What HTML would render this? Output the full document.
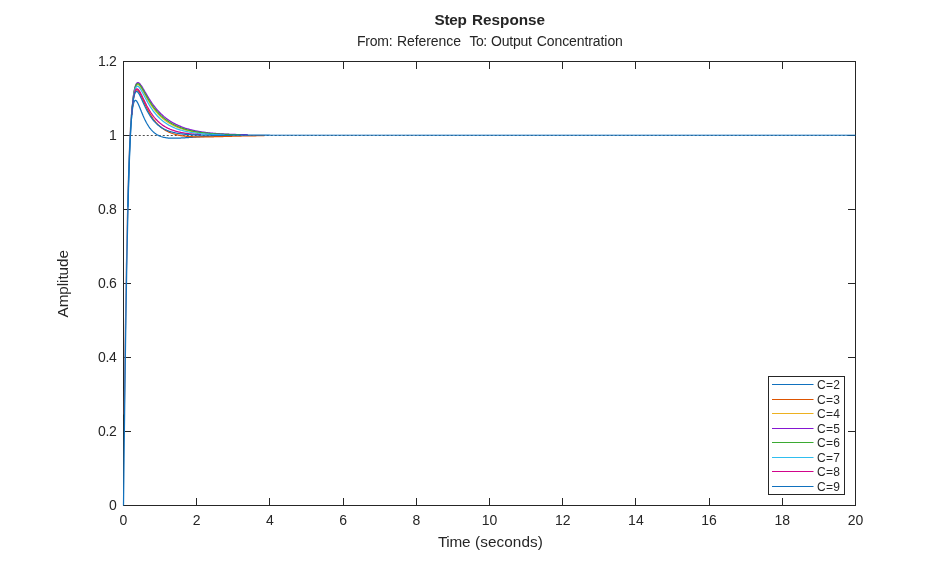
<!DOCTYPE html>
<html><head><meta charset="utf-8"><title>Step Response</title>
<style>
html,body{margin:0;padding:0;background:#fff}
body{width:946px;height:569px;overflow:hidden}
svg{display:block}
text{font-family:"Liberation Sans",Arial,Helvetica,sans-serif;fill:#262626}
.tk{font-size:14px}
.lb{font-size:15.3px}
.lg{font-size:12px}
</style></head><body>
<svg width="946" height="569" viewBox="0 0 946 569">
<rect width="946" height="569" fill="#fff"/>
<g stroke="#262626" stroke-width="1" fill="none" shape-rendering="crispEdges">
<rect x="123.5" y="61.5" width="732.0" height="444.0"/>
<path d="M196.5,505.5 V498.2 M196.5,61.5 V68.8"/>
<path d="M269.5,505.5 V498.2 M269.5,61.5 V68.8"/>
<path d="M343.5,505.5 V498.2 M343.5,61.5 V68.8"/>
<path d="M416.5,505.5 V498.2 M416.5,61.5 V68.8"/>
<path d="M489.5,505.5 V498.2 M489.5,61.5 V68.8"/>
<path d="M562.5,505.5 V498.2 M562.5,61.5 V68.8"/>
<path d="M635.5,505.5 V498.2 M635.5,61.5 V68.8"/>
<path d="M709.5,505.5 V498.2 M709.5,61.5 V68.8"/>
<path d="M782.5,505.5 V498.2 M782.5,61.5 V68.8"/>
<path d="M123.5,431.5 H130.8 M855.5,431.5 H848.2"/>
<path d="M123.5,357.5 H130.8 M855.5,357.5 H848.2"/>
<path d="M123.5,283.5 H130.8 M855.5,283.5 H848.2"/>
<path d="M123.5,209.5 H130.8 M855.5,209.5 H848.2"/>
<path d="M123.5,135.5 H130.8 M855.5,135.5 H848.2"/>
</g>
<path d="M123.5,135.50 H855.5" stroke="#262626" stroke-width="0.9" stroke-opacity="0.9" stroke-dasharray="2 2" stroke-dashoffset="0.75" fill="none"/>
<g fill="none" stroke-width="1.25" stroke-linejoin="round">
<g stroke-opacity="0.22">
<path d="M124.25,413.93 L124.43,399.56 L124.61,385.53 L124.80,371.85 L124.98,358.54 L125.16,345.62 L125.35,333.08 L125.53,320.94 L125.71,309.20 L125.90,297.86 L126.08,286.92 L126.26,276.39 L126.44,266.25 L126.63,256.51 L126.81,247.16 L126.99,238.19 L127.18,229.59 L127.36,221.37 L127.54,213.50 L127.72,205.99 L127.91,198.82 L128.09,191.98 L128.27,185.47 L128.46,179.27 L128.64,173.37 L128.82,167.77 L129.01,162.46 L129.19,157.42 L129.37,152.64 L129.56,148.12 L129.74,143.84 L129.92,139.81 L130.10,136.00 L130.29,132.40 L130.47,129.02 L130.65,125.84 L130.84,122.85 L131.02,120.04 L131.20,117.41 L131.39,114.95" stroke="#DD5400"/>
<path d="M124.25,414.74 L124.43,400.50 L124.61,386.58 L124.80,373.02 L124.98,359.81 L125.16,346.98 L125.35,334.52 L125.53,322.46 L125.71,310.78 L125.90,299.50 L126.08,288.61 L126.26,278.11 L126.44,267.99 L126.63,258.27 L126.81,248.92 L126.99,239.94 L127.18,231.33 L127.36,223.08 L127.54,215.18 L127.72,207.63 L127.91,200.41 L128.09,193.51 L128.27,186.93 L128.46,180.65 L128.64,174.68 L128.82,168.99 L129.01,163.58 L129.19,158.43 L129.37,153.55 L129.56,148.92 L129.74,144.52 L129.92,140.36 L130.10,136.42 L130.29,132.70 L130.47,129.18 L130.65,125.86 L130.84,122.73 L131.02,119.77 L131.20,116.99 L131.39,114.38" stroke="#EDB120"/>
<path d="M124.25,414.87 L124.43,400.64 L124.61,386.75 L124.80,373.20 L124.98,360.01 L125.16,347.19 L125.35,334.75 L125.53,322.69 L125.71,311.02 L125.90,299.74 L126.08,288.85 L126.26,278.35 L126.44,268.23 L126.63,258.50 L126.81,249.14 L126.99,240.16 L127.18,231.54 L127.36,223.27 L127.54,215.36 L127.72,207.78 L127.91,200.54 L128.09,193.62 L128.27,187.02 L128.46,180.72 L128.64,174.71 L128.82,168.99 L129.01,163.55 L129.19,158.38 L129.37,153.46 L129.56,148.80 L129.74,144.37 L129.92,140.17 L130.10,136.20 L130.29,132.43 L130.47,128.87 L130.65,125.51 L130.84,122.34 L131.02,119.35 L131.20,116.53 L131.39,113.87" stroke="#8516D1"/>
<path d="M124.25,414.77 L124.43,400.54 L124.61,386.63 L124.80,373.07 L124.98,359.87 L125.16,347.04 L125.35,334.59 L125.53,322.52 L125.71,310.85 L125.90,299.56 L126.08,288.67 L126.26,278.17 L126.44,268.05 L126.63,258.32 L126.81,248.97 L126.99,239.99 L127.18,231.37 L127.36,223.11 L127.54,215.20 L127.72,207.64 L127.91,200.41 L128.09,193.50 L128.27,186.91 L128.46,180.62 L128.64,174.63 L128.82,168.93 L129.01,163.50 L129.19,158.35 L129.37,153.45 L129.56,148.80 L129.74,144.39 L129.92,140.21 L130.10,136.26 L130.29,132.52 L130.47,128.98 L130.65,125.64 L130.84,122.49 L131.02,119.52 L131.20,116.72 L131.39,114.09" stroke="#3BAA32"/>
<path d="M124.25,414.58 L124.43,400.32 L124.61,386.38 L124.80,372.79 L124.98,359.57 L125.16,346.72 L125.35,334.25 L125.53,322.17 L125.71,310.48 L125.90,299.19 L126.08,288.30 L126.26,277.79 L126.44,267.68 L126.63,257.96 L126.81,248.61 L126.99,239.64 L127.18,231.04 L127.36,222.80 L127.54,214.92 L127.72,207.38 L127.91,200.17 L128.09,193.30 L128.27,186.74 L128.46,180.49 L128.64,174.54 L128.82,168.87 L129.01,163.49 L129.19,158.38 L129.37,153.53 L129.56,148.93 L129.74,144.57 L129.92,140.44 L130.10,136.54 L130.29,132.85 L130.47,129.37 L130.65,126.09 L130.84,122.99 L131.02,120.08 L131.20,117.34 L131.39,114.77" stroke="#2FBEEF"/>
<path d="M124.25,414.01 L124.43,399.66 L124.61,385.63 L124.80,371.96 L124.98,358.66 L125.16,345.74 L125.35,333.20 L125.53,321.06 L125.71,309.32 L125.90,297.98 L126.08,287.05 L126.26,276.51 L126.44,266.37 L126.63,256.62 L126.81,247.26 L126.99,238.29 L127.18,229.69 L127.36,221.45 L127.54,213.58 L127.72,206.06 L127.91,198.88 L128.09,192.03 L128.27,185.51 L128.46,179.29 L128.64,173.39 L128.82,167.77 L129.01,162.44 L129.19,157.39 L129.37,152.60 L129.56,148.06 L129.74,143.77 L129.92,139.72 L130.10,135.89 L130.29,132.28 L130.47,128.88 L130.65,125.67 L130.84,122.66 L131.02,119.84 L131.20,117.19 L131.39,114.70" stroke="#D1048B"/>
</g>
<path d="M127.89,206.88 L128.07,199.43 L128.26,192.36 L128.44,185.67 L128.62,179.34 L128.81,173.37 L128.99,167.73 L129.17,162.42 L129.36,157.42 L129.54,152.73 L129.72,148.32 L129.91,144.19 L130.09,140.33 L130.27,136.72 L130.45,133.35 L130.64,130.21 L130.82,127.29 L131.00,124.58 L131.19,122.07 L131.37,119.74 L131.55,117.60 L131.74,115.62 L131.92,113.81 L132.10,112.15 L132.28,110.63 L132.47,109.25 L132.65,107.99 L132.83,106.86 L133.02,105.84 L133.20,104.93 L133.38,104.12 L133.56,103.41 L133.75,102.79 L133.93,102.25 L134.11,101.79 L134.30,101.40 L134.48,101.08 L134.66,100.83 L134.85,100.63 L135.03,100.50 L135.21,100.41 L135.40,100.38 L135.58,100.39 L135.76,100.44 L135.94,100.53 L136.13,100.66 L136.31,100.82 L136.49,101.02 L136.68,101.24 L136.86,101.48 L137.04,101.76 L137.22,102.05 L137.41,102.37 L137.59,102.70 L137.77,103.05 L137.96,103.41 L138.14,103.79 L138.32,104.18 L138.51,104.58 L138.69,104.99 L138.87,105.41 L139.06,105.84 L139.24,106.27 L139.42,106.71 L139.60,107.15 L139.79,107.60 L139.97,108.05 L140.15,108.50 L140.34,108.96 L140.52,109.41 L140.70,109.87 L140.88,110.32 L141.07,110.78 L141.25,111.23 L141.43,111.69 L141.62,112.14 L141.80,112.59 L141.98,113.03 L142.17,113.48 L142.35,113.92 L142.53,114.35 L142.72,114.79 L142.90,115.22 L143.08,115.64 L143.26,116.07 L143.45,116.48 L143.63,116.90 L143.81,117.31 L144.00,117.71 L144.18,118.11 L144.36,118.51 L144.55,118.90 L144.73,119.28 L144.91,119.66 L145.09,120.04 L145.28,120.41 L145.46,120.77 L146.19,122.18 L146.92,123.51 L147.66,124.75 L148.39,125.92 L149.12,127.01 L149.85,128.02 L150.58,128.96 L151.32,129.84 L152.05,130.64 L152.78,131.39 L153.51,132.08 L154.24,132.72 L154.98,133.30 L155.71,133.84 L156.44,134.33 L157.17,134.77 L157.90,135.18 L158.64,135.56 L159.37,135.89 L160.10,136.20 L160.83,136.48 L161.56,136.72 L162.30,136.95 L163.03,137.15 L163.76,137.32 L164.49,137.48 L165.22,137.62 L165.96,137.74 L166.69,137.84 L167.42,137.93 L168.15,138.01 L168.88,138.07 L169.62,138.12 L170.35,138.16 L171.08,138.20 L171.81,138.22 L172.54,138.23 L173.28,138.24 L174.01,138.24 L174.74,138.23 L175.47,138.22 L176.20,138.20 L176.94,138.18 L177.67,138.16 L178.40,138.13 L179.13,138.10 L179.86,138.06 L180.60,138.03 L181.33,137.99 L182.06,137.94 L182.79,137.90 L183.52,137.86 L184.26,137.81 L184.99,137.76 L185.72,137.72 L186.45,137.67 L187.18,137.62 L187.92,137.57 L188.65,137.52 L189.38,137.47 L190.11,137.42 L190.84,137.37 L191.58,137.32 L192.31,137.27 L193.04,137.22 L193.77,137.17 L194.50,137.12 L195.24,137.07 L195.97,137.02 L196.70,136.97 L197.43,136.93 L198.16,136.88 L198.90,136.84 L199.63,136.79 L200.36,136.75 L201.09,136.71 L201.82,136.66 L202.56,136.62 L203.29,136.58 L204.02,136.54 L204.75,136.50 L205.48,136.46 L206.22,136.43 L206.95,136.39 L207.68,136.35 L208.41,136.32 L209.14,136.28 L209.88,136.25 L210.61,136.22 L211.34,136.19 L212.07,136.15 L212.80,136.12 L213.54,136.09 L214.27,136.06 L215.00,136.04 L215.73,136.01 L216.46,135.98 L217.20,135.96 L217.93,135.93 L218.66,135.91 L219.39,135.88 L220.12,135.86 L220.86,135.83 L221.59,135.81 L222.32,135.79 L223.05,135.77 L223.78,135.75 L224.52,135.73 L225.25,135.71" stroke="#1171BE"/>
<path d="M131.74,114.95 L131.92,112.64 L132.10,110.50 L132.28,108.49 L132.47,106.63 L132.65,104.90 L132.83,103.30 L133.02,101.81 L133.20,100.44 L133.38,99.18 L133.56,98.03 L133.75,96.97 L133.93,96.00 L134.11,95.12 L134.30,94.33 L134.48,93.62 L134.66,92.98 L134.85,92.41 L135.03,91.90 L135.21,91.47 L135.40,91.09 L135.58,90.76 L135.76,90.49 L135.94,90.27 L136.13,90.10 L136.31,89.97 L136.49,89.88 L136.68,89.83 L136.86,89.82 L137.04,89.84 L137.22,89.90 L137.41,89.98 L137.59,90.09 L137.77,90.23 L137.96,90.40 L138.14,90.58 L138.32,90.79 L138.51,91.02 L138.69,91.26 L138.87,91.52 L139.06,91.80 L139.24,92.09 L139.42,92.40 L139.60,92.71 L139.79,93.04 L139.97,93.38 L140.15,93.73 L140.34,94.08 L140.52,94.45 L140.70,94.82 L140.88,95.19 L141.07,95.58 L141.25,95.96 L141.43,96.35 L141.62,96.75 L141.80,97.15 L141.98,97.55 L142.17,97.95 L142.35,98.36 L142.53,98.76 L142.72,99.17 L142.90,99.58 L143.08,99.99 L143.26,100.39 L143.45,100.80 L143.63,101.21 L143.81,101.62 L144.00,102.02 L144.18,102.43 L144.36,102.83 L144.55,103.23 L144.73,103.63 L144.91,104.03 L145.09,104.42 L145.28,104.82 L145.46,105.21 L146.19,106.74 L146.92,108.24 L147.66,109.68 L148.39,111.07 L149.12,112.40 L149.85,113.68 L150.58,114.91 L151.32,116.08 L152.05,117.20 L152.78,118.27 L153.51,119.29 L154.24,120.26 L154.98,121.18 L155.71,122.06 L156.44,122.90 L157.17,123.69 L157.90,124.44 L158.64,125.16 L159.37,125.84 L160.10,126.49 L160.83,127.10 L161.56,127.69 L162.30,128.24 L163.03,128.76 L163.76,129.26 L164.49,129.73 L165.22,130.18 L165.96,130.60 L166.69,131.01 L167.42,131.39 L168.15,131.75 L168.88,132.09 L169.62,132.41 L170.35,132.71 L171.08,133.00 L171.81,133.27 L172.54,133.53 L173.28,133.77 L174.01,134.00 L174.74,134.21 L175.47,134.42 L176.20,134.61 L176.94,134.79 L177.67,134.96 L178.40,135.12 L179.13,135.27 L179.86,135.41 L180.60,135.54 L181.33,135.66 L182.06,135.77 L182.79,135.88 L183.52,135.98 L184.26,136.07 L184.99,136.16 L185.72,136.24 L186.45,136.31 L187.18,136.38 L187.92,136.45 L188.65,136.50 L189.38,136.56 L190.11,136.61 L190.84,136.65 L191.58,136.69 L192.31,136.73 L193.04,136.76 L193.77,136.79 L194.50,136.81 L195.24,136.83 L195.97,136.85 L196.70,136.87 L197.43,136.88 L198.16,136.90 L198.90,136.91 L199.63,136.91 L200.36,136.92 L201.09,136.92 L201.82,136.92 L202.56,136.92 L203.29,136.92 L204.02,136.91 L204.75,136.91 L205.48,136.90 L206.22,136.89 L206.95,136.89 L207.68,136.87 L208.41,136.86 L209.14,136.85 L209.88,136.84 L210.61,136.82 L211.34,136.81 L212.07,136.79 L212.80,136.78 L213.54,136.76 L214.27,136.74 L215.00,136.73 L215.73,136.71 L216.46,136.69 L217.20,136.67 L217.93,136.65 L218.66,136.63 L219.39,136.61 L220.12,136.59 L220.86,136.57 L221.59,136.55 L222.32,136.53 L223.05,136.51 L223.78,136.49 L224.52,136.47 L225.25,136.45 L225.98,136.43 L226.71,136.41 L227.44,136.39 L228.18,136.37 L228.91,136.35 L229.64,136.33 L230.37,136.31 L231.10,136.29 L231.84,136.27 L232.57,136.25 L233.30,136.23 L235.13,136.18 L236.96,136.13 L238.79,136.09 L240.62,136.04 L242.45,136.00 L244.28,135.96 L246.11,135.92 L247.94,135.89 L249.77,135.85 L251.60,135.82 L253.43,135.79 L255.26,135.76 L257.09,135.73 L258.92,135.71 L260.75,135.68 L262.58,135.66 L264.41,135.64" stroke="#DD5400"/>
<path d="M131.74,114.38 L131.92,111.93 L132.10,109.62 L132.28,107.46 L132.47,105.44 L132.65,103.55 L132.83,101.79 L133.02,100.14 L133.20,98.61 L133.38,97.19 L133.56,95.87 L133.75,94.65 L133.93,93.52 L134.11,92.48 L134.30,91.52 L134.48,90.65 L134.66,89.85 L134.85,89.12 L135.03,88.45 L135.21,87.86 L135.40,87.32 L135.58,86.84 L135.76,86.41 L135.94,86.04 L136.13,85.71 L136.31,85.43 L136.49,85.20 L136.68,85.00 L136.86,84.84 L137.04,84.72 L137.22,84.63 L137.41,84.57 L137.59,84.54 L137.77,84.54 L137.96,84.57 L138.14,84.62 L138.32,84.70 L138.51,84.79 L138.69,84.91 L138.87,85.05 L139.06,85.20 L139.24,85.37 L139.42,85.55 L139.60,85.75 L139.79,85.96 L139.97,86.19 L140.15,86.42 L140.34,86.67 L140.52,86.93 L140.70,87.19 L140.88,87.46 L141.07,87.74 L141.25,88.03 L141.43,88.33 L141.62,88.62 L141.80,88.93 L141.98,89.24 L142.17,89.55 L142.35,89.87 L142.53,90.19 L142.72,90.51 L142.90,90.84 L143.08,91.17 L143.26,91.50 L143.45,91.83 L143.63,92.16 L143.81,92.50 L144.00,92.83 L144.18,93.17 L144.36,93.50 L144.55,93.84 L144.73,94.18 L144.91,94.51 L145.09,94.85 L145.28,95.18 L145.46,95.52 L146.19,96.84 L146.92,98.15 L147.66,99.43 L148.39,100.68 L149.12,101.90 L149.85,103.08 L150.58,104.23 L151.32,105.34 L152.05,106.41 L152.78,107.45 L153.51,108.45 L154.24,109.42 L154.98,110.35 L155.71,111.26 L156.44,112.12 L157.17,112.96 L157.90,113.77 L158.64,114.55 L159.37,115.30 L160.10,116.02 L160.83,116.72 L161.56,117.39 L162.30,118.04 L163.03,118.67 L163.76,119.27 L164.49,119.85 L165.22,120.41 L165.96,120.95 L166.69,121.47 L167.42,121.97 L168.15,122.45 L168.88,122.92 L169.62,123.37 L170.35,123.80 L171.08,124.22 L171.81,124.62 L172.54,125.01 L173.28,125.39 L174.01,125.75 L174.74,126.10 L175.47,126.43 L176.20,126.76 L176.94,127.07 L177.67,127.37 L178.40,127.66 L179.13,127.94 L179.86,128.21 L180.60,128.47 L181.33,128.72 L182.06,128.96 L182.79,129.20 L183.52,129.42 L184.26,129.64 L184.99,129.85 L185.72,130.05 L186.45,130.24 L187.18,130.43 L187.92,130.61 L188.65,130.78 L189.38,130.95 L190.11,131.11 L190.84,131.26 L191.58,131.41 L192.31,131.56 L193.04,131.69 L193.77,131.83 L194.50,131.95 L195.24,132.08 L195.97,132.20 L196.70,132.31 L197.43,132.42 L198.16,132.53 L198.90,132.63 L199.63,132.73 L200.36,132.82 L201.09,132.91 L201.82,133.00 L202.56,133.08 L203.29,133.16 L204.02,133.24 L204.75,133.31 L205.48,133.39 L206.22,133.45 L206.95,133.52 L207.68,133.58 L208.41,133.65 L209.14,133.70 L209.88,133.76 L210.61,133.82 L211.34,133.87 L212.07,133.92 L212.80,133.97 L213.54,134.01 L214.27,134.06 L215.00,134.10 L215.73,134.14 L216.46,134.18 L217.20,134.22 L217.93,134.25 L218.66,134.29 L219.39,134.32 L220.12,134.35 L220.86,134.39 L221.59,134.41 L222.32,134.44 L223.05,134.47 L223.78,134.50 L224.52,134.52 L225.25,134.55 L225.98,134.57 L226.71,134.59 L227.44,134.61 L228.18,134.63 L228.91,134.65 L229.64,134.67 L230.37,134.69 L231.10,134.70 L231.84,134.72 L232.57,134.74 L233.30,134.75 L235.13,134.79" stroke="#EDB120"/>
<path d="M131.74,113.87 L131.92,111.37 L132.10,109.03 L132.28,106.83 L132.47,104.76 L132.65,102.83 L132.83,101.02 L133.02,99.33 L133.20,97.76 L133.38,96.29 L133.56,94.93 L133.75,93.66 L133.93,92.49 L134.11,91.41 L134.30,90.41 L134.48,89.49 L134.66,88.64 L134.85,87.87 L135.03,87.16 L135.21,86.52 L135.40,85.95 L135.58,85.42 L135.76,84.96 L135.94,84.54 L136.13,84.18 L136.31,83.86 L136.49,83.58 L136.68,83.34 L136.86,83.14 L137.04,82.98 L137.22,82.86 L137.41,82.76 L137.59,82.70 L137.77,82.66 L137.96,82.65 L138.14,82.67 L138.32,82.71 L138.51,82.77 L138.69,82.86 L138.87,82.96 L139.06,83.08 L139.24,83.22 L139.42,83.37 L139.60,83.54 L139.79,83.72 L139.97,83.92 L140.15,84.12 L140.34,84.34 L140.52,84.57 L140.70,84.80 L140.88,85.05 L141.07,85.30 L141.25,85.57 L141.43,85.83 L141.62,86.11 L141.80,86.39 L141.98,86.67 L142.17,86.96 L142.35,87.26 L142.53,87.56 L142.72,87.86 L142.90,88.16 L143.08,88.47 L143.26,88.78 L143.45,89.09 L143.63,89.41 L143.81,89.72 L144.00,90.04 L144.18,90.36 L144.36,90.68 L144.55,91.00 L144.73,91.32 L144.91,91.64 L145.09,91.96 L145.28,92.28 L145.46,92.60 L146.19,93.87 L146.92,95.13 L147.66,96.37 L148.39,97.58 L149.12,98.77 L149.85,99.93 L150.58,101.06 L151.32,102.16 L152.05,103.23 L152.78,104.26 L153.51,105.26 L154.24,106.23 L154.98,107.17 L155.71,108.08 L156.44,108.97 L157.17,109.82 L157.90,110.64 L158.64,111.44 L159.37,112.22 L160.10,112.97 L160.83,113.69 L161.56,114.39 L162.30,115.07 L163.03,115.72 L163.76,116.36 L164.49,116.97 L165.22,117.57 L165.96,118.14 L166.69,118.70 L167.42,119.24 L168.15,119.76 L168.88,120.26 L169.62,120.75 L170.35,121.22 L171.08,121.68 L171.81,122.13 L172.54,122.55 L173.28,122.97 L174.01,123.37 L174.74,123.76 L175.47,124.14 L176.20,124.50 L176.94,124.85 L177.67,125.19 L178.40,125.52 L179.13,125.84 L179.86,126.15 L180.60,126.45 L181.33,126.74 L182.06,127.02 L182.79,127.29 L183.52,127.56 L184.26,127.81 L184.99,128.06 L185.72,128.29 L186.45,128.52 L187.18,128.75 L187.92,128.96 L188.65,129.17 L189.38,129.37 L190.11,129.56 L190.84,129.75 L191.58,129.93 L192.31,130.11 L193.04,130.28 L193.77,130.44 L194.50,130.60 L195.24,130.76 L195.97,130.91 L196.70,131.05 L197.43,131.19 L198.16,131.32 L198.90,131.45 L199.63,131.58 L200.36,131.70 L201.09,131.81 L201.82,131.93 L202.56,132.04 L203.29,132.14 L204.02,132.24 L204.75,132.34 L205.48,132.44 L206.22,132.53 L206.95,132.62 L207.68,132.70 L208.41,132.79 L209.14,132.87 L209.88,132.94 L210.61,133.02 L211.34,133.09 L212.07,133.16 L212.80,133.23 L213.54,133.29 L214.27,133.35 L215.00,133.41 L215.73,133.47 L216.46,133.53 L217.20,133.58 L217.93,133.64 L218.66,133.69 L219.39,133.73 L220.12,133.78 L220.86,133.83 L221.59,133.87 L222.32,133.91 L223.05,133.95 L223.78,133.99 L224.52,134.03 L225.25,134.07 L225.98,134.10 L226.71,134.14 L227.44,134.17 L228.18,134.20 L228.91,134.23 L229.64,134.26 L230.37,134.29 L231.10,134.32 L231.84,134.35 L232.57,134.37 L233.30,134.40 L235.13,134.46 L236.96,134.51 L238.79,134.56 L240.62,134.60 L242.45,134.65 L244.28,134.69 L246.11,134.72 L247.94,134.76" stroke="#8516D1"/>
<path d="M131.74,114.09 L131.92,111.62 L132.10,109.30 L132.28,107.12 L132.47,105.08 L132.65,103.17 L132.83,101.39 L133.02,99.73 L133.20,98.18 L133.38,96.73 L133.56,95.40 L133.75,94.16 L133.93,93.01 L134.11,91.95 L134.30,90.98 L134.48,90.08 L134.66,89.26 L134.85,88.51 L135.03,87.83 L135.21,87.22 L135.40,86.66 L135.58,86.16 L135.76,85.72 L135.94,85.33 L136.13,84.99 L136.31,84.69 L136.49,84.44 L136.68,84.22 L136.86,84.05 L137.04,83.91 L137.22,83.80 L137.41,83.73 L137.59,83.69 L137.77,83.67 L137.96,83.69 L138.14,83.72 L138.32,83.78 L138.51,83.87 L138.69,83.97 L138.87,84.09 L139.06,84.23 L139.24,84.39 L139.42,84.56 L139.60,84.74 L139.79,84.94 L139.97,85.16 L140.15,85.38 L140.34,85.61 L140.52,85.86 L140.70,86.11 L140.88,86.37 L141.07,86.64 L141.25,86.92 L141.43,87.20 L141.62,87.49 L141.80,87.79 L141.98,88.09 L142.17,88.39 L142.35,88.70 L142.53,89.01 L142.72,89.33 L142.90,89.64 L143.08,89.96 L143.26,90.29 L143.45,90.61 L143.63,90.94 L143.81,91.26 L144.00,91.59 L144.18,91.92 L144.36,92.25 L144.55,92.58 L144.73,92.91 L144.91,93.24 L145.09,93.57 L145.28,93.90 L145.46,94.22 L146.19,95.53 L146.92,96.82 L147.66,98.09 L148.39,99.32 L149.12,100.53 L149.85,101.71 L150.58,102.85 L151.32,103.96 L152.05,105.03 L152.78,106.07 L153.51,107.07 L154.24,108.05 L154.98,108.99 L155.71,109.89 L156.44,110.77 L157.17,111.62 L157.90,112.43 L158.64,113.22 L159.37,113.99 L160.10,114.72 L160.83,115.43 L161.56,116.12 L162.30,116.78 L163.03,117.42 L163.76,118.04 L164.49,118.63 L165.22,119.21 L165.96,119.77 L166.69,120.30 L167.42,120.82 L168.15,121.32 L168.88,121.81 L169.62,122.28 L170.35,122.73 L171.08,123.16 L171.81,123.58 L172.54,123.99 L173.28,124.38 L174.01,124.76 L174.74,125.13 L175.47,125.48 L176.20,125.82 L176.94,126.15 L177.67,126.47 L178.40,126.78 L179.13,127.08 L179.86,127.37 L180.60,127.64 L181.33,127.91 L182.06,128.17 L182.79,128.42 L183.52,128.66 L184.26,128.89 L184.99,129.12 L185.72,129.34 L186.45,129.54 L187.18,129.75 L187.92,129.94 L188.65,130.13 L189.38,130.31 L190.11,130.49 L190.84,130.65 L191.58,130.82 L192.31,130.97 L193.04,131.13 L193.77,131.27 L194.50,131.41 L195.24,131.55 L195.97,131.68 L196.70,131.81 L197.43,131.93 L198.16,132.05 L198.90,132.16 L199.63,132.27 L200.36,132.37 L201.09,132.48 L201.82,132.57 L202.56,132.67 L203.29,132.76 L204.02,132.85 L204.75,132.93 L205.48,133.01 L206.22,133.09 L206.95,133.17 L207.68,133.24 L208.41,133.31 L209.14,133.38 L209.88,133.44 L210.61,133.50 L211.34,133.57 L212.07,133.62 L212.80,133.68 L213.54,133.73 L214.27,133.78 L215.00,133.83 L215.73,133.88 L216.46,133.93 L217.20,133.97 L217.93,134.02 L218.66,134.06 L219.39,134.10 L220.12,134.13 L220.86,134.17 L221.59,134.21 L222.32,134.24 L223.05,134.27 L223.78,134.30 L224.52,134.33 L225.25,134.36 L225.98,134.39 L226.71,134.42 L227.44,134.44 L228.18,134.47 L228.91,134.49 L229.64,134.52 L230.37,134.54 L231.10,134.56 L231.84,134.58 L232.57,134.60 L233.30,134.62 L235.13,134.66 L236.96,134.70 L238.79,134.74 L240.62,134.77" stroke="#3BAA32"/>
<path d="M131.74,114.77 L131.92,112.36 L132.10,110.09 L132.28,107.98 L132.47,106.00 L132.65,104.15 L132.83,102.43 L133.02,100.83 L133.20,99.34 L133.38,97.96 L133.56,96.69 L133.75,95.51 L133.93,94.42 L134.11,93.42 L134.30,92.51 L134.48,91.68 L134.66,90.92 L134.85,90.23 L135.03,89.61 L135.21,89.05 L135.40,88.56 L135.58,88.12 L135.76,87.73 L135.94,87.40 L136.13,87.11 L136.31,86.87 L136.49,86.67 L136.68,86.51 L136.86,86.39 L137.04,86.30 L137.22,86.25 L137.41,86.23 L137.59,86.24 L137.77,86.27 L137.96,86.33 L138.14,86.42 L138.32,86.53 L138.51,86.65 L138.69,86.80 L138.87,86.97 L139.06,87.15 L139.24,87.35 L139.42,87.57 L139.60,87.79 L139.79,88.04 L139.97,88.29 L140.15,88.55 L140.34,88.82 L140.52,89.10 L140.70,89.39 L140.88,89.69 L141.07,90.00 L141.25,90.31 L141.43,90.63 L141.62,90.95 L141.80,91.27 L141.98,91.60 L142.17,91.94 L142.35,92.28 L142.53,92.62 L142.72,92.96 L142.90,93.30 L143.08,93.65 L143.26,94.00 L143.45,94.35 L143.63,94.70 L143.81,95.05 L144.00,95.40 L144.18,95.75 L144.36,96.10 L144.55,96.45 L144.73,96.80 L144.91,97.15 L145.09,97.50 L145.28,97.84 L145.46,98.19 L146.19,99.56 L146.92,100.90 L147.66,102.21 L148.39,103.49 L149.12,104.72 L149.85,105.92 L150.58,107.08 L151.32,108.19 L152.05,109.26 L152.78,110.30 L153.51,111.29 L154.24,112.25 L154.98,113.17 L155.71,114.05 L156.44,114.90 L157.17,115.72 L157.90,116.50 L158.64,117.25 L159.37,117.97 L160.10,118.67 L160.83,119.33 L161.56,119.97 L162.30,120.58 L163.03,121.17 L163.76,121.74 L164.49,122.28 L165.22,122.81 L165.96,123.31 L166.69,123.79 L167.42,124.25 L168.15,124.69 L168.88,125.12 L169.62,125.53 L170.35,125.92 L171.08,126.30 L171.81,126.66 L172.54,127.01 L173.28,127.35 L174.01,127.67 L174.74,127.98 L175.47,128.27 L176.20,128.56 L176.94,128.83 L177.67,129.10 L178.40,129.35 L179.13,129.59 L179.86,129.82 L180.60,130.05 L181.33,130.26 L182.06,130.47 L182.79,130.67 L183.52,130.86 L184.26,131.04 L184.99,131.22 L185.72,131.38 L186.45,131.55 L187.18,131.70 L187.92,131.85 L188.65,131.99 L189.38,132.13 L190.11,132.26 L190.84,132.38 L191.58,132.50 L192.31,132.62 L193.04,132.73 L193.77,132.84 L194.50,132.94 L195.24,133.04 L195.97,133.13 L196.70,133.22 L197.43,133.30 L198.16,133.39 L198.90,133.47 L199.63,133.54 L200.36,133.61 L201.09,133.68 L201.82,133.75 L202.56,133.81 L203.29,133.87 L204.02,133.93 L204.75,133.99 L205.48,134.04 L206.22,134.09 L206.95,134.14 L207.68,134.19 L208.41,134.23 L209.14,134.27 L209.88,134.31 L210.61,134.35 L211.34,134.39 L212.07,134.42 L212.80,134.46 L213.54,134.49 L214.27,134.52 L215.00,134.55 L215.73,134.58 L216.46,134.60 L217.20,134.63 L217.93,134.65 L218.66,134.68 L219.39,134.70 L220.12,134.72 L220.86,134.74 L221.59,134.76 L222.32,134.78 L223.05,134.79 L223.78,134.81 L224.52,134.83" stroke="#2FBEEF"/>
<path d="M131.74,114.70 L131.92,112.38 L132.10,110.21 L132.28,108.19 L132.47,106.30 L132.65,104.55 L132.83,102.93 L133.02,101.42 L133.20,100.03 L133.38,98.74 L133.56,97.56 L133.75,96.48 L133.93,95.49 L134.11,94.59 L134.30,93.77 L134.48,93.03 L134.66,92.37 L134.85,91.77 L135.03,91.24 L135.21,90.78 L135.40,90.38 L135.58,90.03 L135.76,89.73 L135.94,89.48 L136.13,89.28 L136.31,89.13 L136.49,89.02 L136.68,88.94 L136.86,88.90 L137.04,88.90 L137.22,88.93 L137.41,88.98 L137.59,89.07 L137.77,89.18 L137.96,89.32 L138.14,89.48 L138.32,89.66 L138.51,89.86 L138.69,90.08 L138.87,90.31 L139.06,90.56 L139.24,90.83 L139.42,91.10 L139.60,91.39 L139.79,91.70 L139.97,92.01 L140.15,92.33 L140.34,92.66 L140.52,93.00 L140.70,93.34 L140.88,93.69 L141.07,94.05 L141.25,94.41 L141.43,94.77 L141.62,95.14 L141.80,95.52 L141.98,95.89 L142.17,96.27 L142.35,96.65 L142.53,97.03 L142.72,97.41 L142.90,97.79 L143.08,98.18 L143.26,98.56 L143.45,98.94 L143.63,99.33 L143.81,99.71 L144.00,100.09 L144.18,100.47 L144.36,100.85 L144.55,101.23 L144.73,101.61 L144.91,101.98 L145.09,102.35 L145.28,102.72 L145.46,103.09 L146.19,104.54 L146.92,105.95 L147.66,107.30 L148.39,108.61 L149.12,109.87 L149.85,111.08 L150.58,112.24 L151.32,113.34 L152.05,114.40 L152.78,115.41 L153.51,116.37 L154.24,117.28 L154.98,118.16 L155.71,118.99 L156.44,119.78 L157.17,120.54 L157.90,121.26 L158.64,121.94 L159.37,122.59 L160.10,123.21 L160.83,123.80 L161.56,124.36 L162.30,124.89 L163.03,125.40 L163.76,125.89 L164.49,126.35 L165.22,126.79 L165.96,127.20 L166.69,127.60 L167.42,127.98 L168.15,128.34 L168.88,128.68 L169.62,129.01 L170.35,129.32 L171.08,129.61 L171.81,129.90 L172.54,130.16 L173.28,130.42 L174.01,130.66 L174.74,130.89 L175.47,131.11 L176.20,131.32 L176.94,131.52 L177.67,131.71 L178.40,131.90 L179.13,132.07 L179.86,132.23 L180.60,132.39 L181.33,132.54 L182.06,132.68 L182.79,132.81 L183.52,132.94 L184.26,133.06 L184.99,133.18 L185.72,133.29 L186.45,133.39 L187.18,133.49 L187.92,133.59 L188.65,133.68 L189.38,133.76 L190.11,133.84 L190.84,133.92 L191.58,133.99 L192.31,134.06 L193.04,134.13 L193.77,134.19 L194.50,134.25 L195.24,134.31 L195.97,134.36 L196.70,134.41 L197.43,134.46 L198.16,134.50 L198.90,134.55 L199.63,134.59 L200.36,134.62 L201.09,134.66" stroke="#D1048B"/>
<path d="M123.50,505.51 L123.68,489.75 L123.87,474.10 L124.05,458.62 L124.23,443.34 L124.42,428.31 L124.60,413.57 L124.78,399.13 L124.96,385.03 L125.15,371.28 L125.33,357.91 L125.51,344.92 L125.70,332.33 L125.88,320.13 L126.06,308.34 L126.25,296.96 L126.43,285.99 L126.61,275.42 L126.79,265.25 L126.98,255.49 L127.16,246.12 L127.34,237.14 L127.53,228.54 L127.71,220.32 L127.89,212.46 L128.07,204.95 L128.26,197.80 L128.44,190.98 L128.62,184.49 L128.81,178.32 L128.99,172.46 L129.17,166.89 L129.36,161.62 L129.54,156.62 L129.72,151.89 L129.91,147.42 L130.09,143.20 L130.27,139.21 L130.45,135.46 L130.64,131.93 L130.82,128.60 L131.00,125.48 L131.19,122.56 L131.37,119.82 L131.55,117.25 L131.74,114.86 L131.92,112.62 L132.10,110.54 L132.28,108.61 L132.47,106.82 L132.65,105.15 L132.83,103.62 L133.02,102.21 L133.20,100.91 L133.38,99.71 L133.56,98.63 L133.75,97.63 L133.93,96.74 L134.11,95.92 L134.30,95.20 L134.48,94.54 L134.66,93.97 L134.85,93.46 L135.03,93.02 L135.21,92.64 L135.40,92.32 L135.58,92.05 L135.76,91.84 L135.94,91.67 L136.13,91.56 L136.31,91.48 L136.49,91.44 L136.68,91.44 L136.86,91.48 L137.04,91.55 L137.22,91.64 L137.41,91.77 L137.59,91.93 L137.77,92.10 L137.96,92.31 L138.14,92.53 L138.32,92.77 L138.51,93.03 L138.69,93.31 L138.87,93.60 L139.06,93.91 L139.24,94.23 L139.42,94.56 L139.60,94.90 L139.79,95.25 L139.97,95.61 L140.15,95.98 L140.34,96.35 L140.52,96.73 L140.70,97.12 L140.88,97.51 L141.07,97.90 L141.25,98.30 L141.43,98.70 L141.62,99.11 L141.80,99.51 L141.98,99.92 L142.17,100.33 L142.35,100.74 L142.53,101.15 L142.72,101.56 L142.90,101.97 L143.08,102.37 L143.26,102.78 L143.45,103.19 L143.63,103.59 L143.81,103.99 L144.00,104.39 L144.18,104.79 L144.36,105.18 L144.55,105.58 L144.73,105.97 L144.91,106.35 L145.09,106.74 L145.28,107.12 L145.46,107.50 L146.19,108.98 L146.92,110.40 L147.66,111.76 L148.39,113.06 L149.12,114.30 L149.85,115.48 L150.58,116.59 L151.32,117.65 L152.05,118.66 L152.78,119.61 L153.51,120.50 L154.24,121.35 L154.98,122.15 L155.71,122.91 L156.44,123.62 L157.17,124.29 L157.90,124.93 L158.64,125.53 L159.37,126.09 L160.10,126.63 L160.83,127.13 L161.56,127.60 L162.30,128.05 L163.03,128.47 L163.76,128.87 L164.49,129.24 L165.22,129.60 L165.96,129.93 L166.69,130.25 L167.42,130.54 L168.15,130.82 L168.88,131.09 L169.62,131.34 L170.35,131.57 L171.08,131.79 L171.81,132.00 L172.54,132.20 L173.28,132.39 L174.01,132.56 L174.74,132.73 L175.47,132.89 L176.20,133.03 L176.94,133.17 L177.67,133.30 L178.40,133.43 L179.13,133.55 L179.86,133.66 L180.60,133.76 L181.33,133.86 L182.06,133.95 L182.79,134.04 L183.52,134.12 L184.26,134.20 L184.99,134.27 L185.72,134.34 L186.45,134.40 L187.18,134.46 L187.92,134.52 L188.65,134.57 L189.38,134.63 L190.11,134.67 L190.84,134.72 L191.58,134.76 L192.31,134.80 L193.04,134.83 L193.77,134.87 L194.50,134.90 L195.24,134.93 L195.97,134.96 L196.70,134.98 L197.43,135.01 L198.16,135.03 L198.90,135.05 L199.63,135.07 L200.36,135.09 L201.09,135.11 L201.82,135.12 L202.56,135.14 L203.29,135.15 L204.02,135.16 L204.75,135.18 L205.48,135.19 L206.22,135.20 L206.95,135.20 L207.68,135.21 L208.41,135.22 L209.14,135.23 L209.88,135.23 L210.61,135.24 L211.34,135.24 L212.07,135.25 L212.80,135.25 L213.54,135.25 L214.27,135.26 L215.00,135.26 L215.73,135.26 L216.46,135.26 L217.20,135.26 L217.93,135.26 L218.66,135.27 L219.39,135.27 L220.12,135.27 L220.86,135.27 L221.59,135.26 L222.32,135.26 L223.05,135.26 L223.78,135.26 L224.52,135.26 L225.25,135.26 L225.98,135.26 L226.71,135.26 L227.44,135.25 L228.18,135.25 L228.91,135.25 L229.64,135.25 L230.37,135.25 L231.10,135.24 L231.84,135.24 L232.57,135.24 L233.30,135.24 L235.13,135.23 L236.96,135.23 L238.79,135.22 L240.62,135.22 L242.45,135.21 L244.28,135.21 L246.11,135.20 L247.94,135.20 L249.77,135.20 L251.60,135.20 L253.43,135.20 L255.26,135.20 L257.09,135.20 L258.92,135.20 L260.75,135.20 L262.58,135.20 L264.41,135.20 L266.24,135.20 L268.07,135.20 L269.90,135.20" stroke="#1171BE"/>
<path d="M269.90,135.20 L271.73,135.20 L273.56,135.20 L275.39,135.20 L277.22,135.20 L279.05,135.20 L280.88,135.20 L282.71,135.20 L284.54,135.20 L286.37,135.20 L288.20,135.20 L290.03,135.20 L291.86,135.20 L293.69,135.20 L295.52,135.20 L297.35,135.20 L299.18,135.20 L301.01,135.20 L302.84,135.20 L304.67,135.20 L306.50,135.20 L308.33,135.20 L310.16,135.20 L311.99,135.20 L313.82,135.20 L315.65,135.20 L317.48,135.20 L319.31,135.20 L321.14,135.20 L322.97,135.20 L324.80,135.20 L326.63,135.20 L328.46,135.20 L330.29,135.20 L332.12,135.20 L333.95,135.20 L335.78,135.20 L337.61,135.20 L339.44,135.20 L341.27,135.20 L343.10,135.20 L344.93,135.20 L346.76,135.20 L348.59,135.20 L350.42,135.20 L352.25,135.20 L354.08,135.20 L355.91,135.20 L357.74,135.20 L359.57,135.20 L361.40,135.20 L363.23,135.20 L365.06,135.20 L366.89,135.20 L368.72,135.20 L370.55,135.20 L372.38,135.20 L374.21,135.20 L376.04,135.20 L377.87,135.20 L379.70,135.20 L381.53,135.20 L383.36,135.20 L385.19,135.20 L387.02,135.20 L388.85,135.20 L390.68,135.20 L392.51,135.20 L394.34,135.20 L396.17,135.20 L398.00,135.20 L399.83,135.20 L401.66,135.20 L403.49,135.20 L405.32,135.20 L407.15,135.20 L408.98,135.20 L410.81,135.20 L412.64,135.20 L414.47,135.20 L416.30,135.20 L855.50,135.20" stroke="#1171BE" stroke-width="1"/>
</g>
<text class="tk" x="123.5" y="525" text-anchor="middle">0</text>
<text class="tk" x="196.7" y="525" text-anchor="middle">2</text>
<text class="tk" x="269.9" y="525" text-anchor="middle">4</text>
<text class="tk" x="343.1" y="525" text-anchor="middle">6</text>
<text class="tk" x="416.3" y="525" text-anchor="middle">8</text>
<text class="tk" x="489.5" y="525" text-anchor="middle">10</text>
<text class="tk" x="562.7" y="525" text-anchor="middle">12</text>
<text class="tk" x="635.9" y="525" text-anchor="middle">14</text>
<text class="tk" x="709.1" y="525" text-anchor="middle">16</text>
<text class="tk" x="782.3" y="525" text-anchor="middle">18</text>
<text class="tk" x="855.5" y="525" text-anchor="middle">20</text>
<text class="tk" x="116.7" y="510.2" text-anchor="end">0</text>
<text class="tk" x="116.7" y="436.2" text-anchor="end" textLength="18.6">0.2</text>
<text class="tk" x="116.7" y="362.2" text-anchor="end" textLength="18.6">0.4</text>
<text class="tk" x="116.7" y="288.2" text-anchor="end" textLength="18.6">0.6</text>
<text class="tk" x="116.7" y="214.2" text-anchor="end" textLength="18.6">0.8</text>
<text class="tk" x="116.7" y="140.2" text-anchor="end">1</text>
<text class="tk" x="116.7" y="66.2" text-anchor="end" textLength="18.6">1.2</text>
<text class="lb" y="547.4"><tspan x="437.90" textLength="32.50" lengthAdjust="spacing">Time</tspan> <tspan x="475.00" textLength="67.80" lengthAdjust="spacing">(seconds)</tspan></text>
<text class="lb" transform="translate(68.0,317.4) rotate(-90)" textLength="67.3" lengthAdjust="spacing">Amplitude</text>
<text class="lb" y="25" font-weight="bold"><tspan x="434.60" textLength="32.20" lengthAdjust="spacing">Step</tspan> <tspan x="472.10" textLength="72.90" lengthAdjust="spacing">Response</tspan></text>
<text class="tk" y="46"><tspan x="356.90" textLength="35.70" lengthAdjust="spacing">From:</tspan> <tspan x="397.00" textLength="64.00" lengthAdjust="spacing">Reference</tspan>  <tspan x="469.40" textLength="17.70" lengthAdjust="spacing">To:</tspan> <tspan x="491.00" textLength="41.00" lengthAdjust="spacing">Output</tspan> <tspan x="536.70" textLength="86.20" lengthAdjust="spacing">Concentration</tspan></text>
<rect x="768.5" y="376.5" width="76" height="118" fill="#fff" stroke="#262626" stroke-width="1" shape-rendering="crispEdges"/>
<path d="M772,384.5 H813.5" stroke="#1171BE" stroke-width="1" fill="none"/>
<text class="lg" x="817.1" y="388.8" textLength="22.9">C=2</text>
<path d="M772,399.5 H813.5" stroke="#DD5400" stroke-width="1" fill="none"/>
<text class="lg" x="817.1" y="403.8" textLength="22.9">C=3</text>
<path d="M772,413.5 H813.5" stroke="#EDB120" stroke-width="1" fill="none"/>
<text class="lg" x="817.1" y="417.8" textLength="22.9">C=4</text>
<path d="M772,428.5 H813.5" stroke="#8516D1" stroke-width="1" fill="none"/>
<text class="lg" x="817.1" y="432.8" textLength="22.9">C=5</text>
<path d="M772,442.5 H813.5" stroke="#3BAA32" stroke-width="1" fill="none"/>
<text class="lg" x="817.1" y="446.8" textLength="22.9">C=6</text>
<path d="M772,457.5 H813.5" stroke="#2FBEEF" stroke-width="1" fill="none"/>
<text class="lg" x="817.1" y="461.8" textLength="22.9">C=7</text>
<path d="M772,471.5 H813.5" stroke="#D1048B" stroke-width="1" fill="none"/>
<text class="lg" x="817.1" y="475.8" textLength="22.9">C=8</text>
<path d="M772,486.5 H813.5" stroke="#1171BE" stroke-width="1" fill="none"/>
<text class="lg" x="817.1" y="490.8" textLength="22.9">C=9</text>
</svg></body></html>
